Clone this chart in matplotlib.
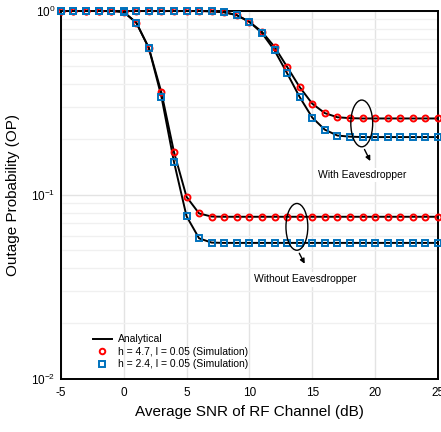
import matplotlib
matplotlib.use('Agg')
import matplotlib.pyplot as plt
from matplotlib.patches import Ellipse
import numpy as np

plt.rcParams['font.family'] = ['Liberation Sans', 'DejaVu Sans']
plt.rcParams['mathtext.fontset'] = 'cm'
plt.rcParams['axes.unicode_minus'] = False

snr = list(range(-5, 26))

# without eavesdropper
op_noeve_h47 = [1.0, 1.0, 1.0, 1.0, 1.0, 0.985, 0.862, 0.628, 0.360, 0.171,
                0.0975, 0.0792, 0.0762, 0.0760, 0.0760, 0.0760, 0.0760, 0.0760, 0.0760, 0.0760,
                0.0760, 0.0760, 0.0760, 0.0760, 0.0760, 0.0760, 0.0760, 0.0760, 0.0760, 0.0760, 0.0760]
op_noeve_h24 = [1.0, 1.0, 1.0, 1.0, 1.0, 0.985, 0.862, 0.628, 0.342, 0.151,
                0.0765, 0.0580, 0.0550, 0.0548, 0.0548, 0.0548, 0.0548, 0.0548, 0.0548, 0.0548,
                0.0548, 0.0548, 0.0548, 0.0548, 0.0548, 0.0548, 0.0548, 0.0548, 0.0548, 0.0548, 0.0548]
# with eavesdropper
op_eve_h47 = [1.0, 1.0, 1.0, 1.0, 1.0, 1.0, 1.0, 1.0, 1.0, 1.0,
              1.0, 0.998, 0.994, 0.982, 0.947, 0.871, 0.769, 0.637, 0.496, 0.385,
              0.313, 0.278, 0.264, 0.261, 0.260, 0.260, 0.260, 0.260, 0.260, 0.260, 0.260]
op_eve_h24 = [1.0, 1.0, 1.0, 1.0, 1.0, 1.0, 1.0, 1.0, 1.0, 1.0,
              1.0, 0.998, 0.994, 0.982, 0.947, 0.871, 0.757, 0.609, 0.458, 0.340,
              0.263, 0.226, 0.210, 0.207, 0.206, 0.206, 0.206, 0.206, 0.206, 0.206, 0.206]

red = '#ff0000'
blue = '#0072bd'

fig = plt.figure(figsize=(4.41, 4.32), dpi=100)
ax = fig.add_axes([0.138, 0.123, 0.855, 0.852])

for op in [op_eve_h47, op_eve_h24, op_noeve_h47, op_noeve_h24]:
    ax.plot(snr, op, color='black', lw=1.4, zorder=3)

ax.plot(snr, op_noeve_h47, ls='none', marker='o', ms=4.3, mfc='none', mec=red, mew=1.4, zorder=4, clip_on=False)
ax.plot(snr, op_eve_h47, ls='none', marker='o', ms=4.3, mfc='none', mec=red, mew=1.4, zorder=4, clip_on=False)
ax.plot(snr, op_noeve_h24, ls='none', marker='s', ms=4.0, mfc='none', mec=blue, mew=1.4, zorder=4, clip_on=False)
ax.plot(snr, op_eve_h24, ls='none', marker='s', ms=4.0, mfc='none', mec=blue, mew=1.4, zorder=4, clip_on=False)

# legend handles
h1, = ax.plot([], [], color='black', lw=1.4, label='Analytical')
h2, = ax.plot([], [], ls='none', marker='o', ms=4, mfc='none', mec=red, mew=1.4,
              label='h = 4.7, l = 0.05 (Simulation)')
h3, = ax.plot([], [], ls='none', marker='s', ms=3.7, mfc='none', mec=blue, mew=1.4,
              label='h = 2.4, l = 0.05 (Simulation)')
ax.legend(handles=[h1, h2, h3], loc='lower left', bbox_to_anchor=(0.06, 0.0), frameon=False,
          fontsize=7.5, handlelength=1.8, labelspacing=0.25, handletextpad=0.6)

ax.set_yscale('log')
ax.set_xlim(-5, 25)
ax.set_ylim(1e-2, 1)
ax.set_xticks(range(-5, 26, 5))
ax.set_yticks([1e-2, 1e-1, 1])
ax.tick_params(axis='both', which='both', length=0)
ax.tick_params(axis='x', labelsize=8.5, pad=6)
ax.tick_params(axis='y', labelsize=8.5, pad=4)
ax.grid(True, which='major', color='#e3e3e3', lw=1)
ax.grid(True, which='minor', axis='y', color='#f0f0f0', lw=1)
ax.set_axisbelow(True)
for s in ax.spines.values():
    s.set_linewidth(1.4)

ax.set_xlabel('Average SNR of RF Channel (dB)', fontsize=11, labelpad=4)
ax.set_ylabel('Outage Probability (OP)', fontsize=11, labelpad=8)

# annotations
for (cx, cy), (ax0, ay0), (ax1, ay1), (tx, ty), txt in [
        ((0.798, 0.694), (0.802, 0.630), (0.824, 0.585), (0.798, 0.553), 'With Eavesdropper'),
        ((0.626, 0.413), (0.629, 0.348), (0.650, 0.306), (0.647, 0.270), 'Without Eavesdropper')]:
    ax.add_patch(Ellipse((cx, cy), 0.058, 0.127, transform=ax.transAxes, fill=False,
                         ec='black', lw=1.0, zorder=5))
    ax.annotate('', xy=(ax1, ay1), xytext=(ax0, ay0), xycoords='axes fraction',
                arrowprops=dict(arrowstyle='-|>', color='black', lw=1.0, mutation_scale=7), zorder=5)
    ax.text(tx, ty, txt, transform=ax.transAxes, ha='center', va='center', fontsize=7.5,
            bbox=dict(fc='white', ec='none', pad=1.5), zorder=5)

fig.savefig('out.png', dpi=100)
